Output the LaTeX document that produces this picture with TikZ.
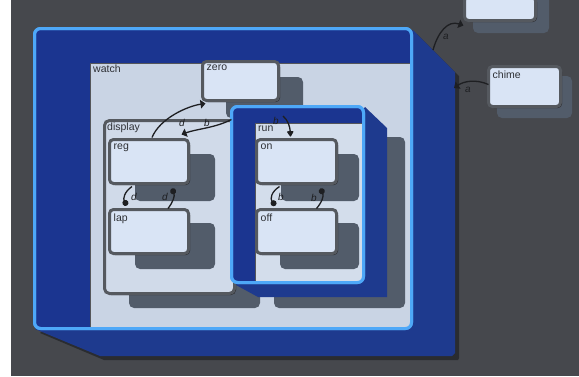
\documentclass[tikz,border=0pt]{standalone}
\usepackage{fontspec}
\setmainfont{Liberation Sans}
\usetikzlibrary{arrows.meta,shadows}
\definecolor{bgc}{HTML}{46484D}
\definecolor{deepblue}{HTML}{1B3590}
\definecolor{sideblue}{HTML}{1E3A8E}
\definecolor{frameblue}{HTML}{4EA8F8}
\definecolor{panelc}{HTML}{C9D4E4}
\definecolor{compc}{HTML}{D0DAE9}
\definecolor{runc}{HTML}{D3DDEB}
\definecolor{nodec}{HTML}{D9E4F5}
\definecolor{borderc}{HTML}{55595F}
\definecolor{shadowc}{HTML}{525C6A}
\definecolor{darkc}{HTML}{2A2C30}
\definecolor{textc}{HTML}{2E3035}
\definecolor{linec}{HTML}{1E1F22}
\tikzset{
  statebox/.style={fill=nodec, draw=borderc, line width=3pt, rounded corners=4pt,
    inner sep=0pt, outer sep=0pt,
    drop shadow={shadow xshift=1.5pt, shadow yshift=-1.5pt, fill=darkc, opacity=1}},
  compbox/.style={fill=compc, draw=borderc, line width=3pt, rounded corners=5pt,
    inner sep=0pt, outer sep=0pt,
    drop shadow={shadow xshift=1.5pt, shadow yshift=-1.5pt, fill=darkc, opacity=1}},
  framebox/.style={fill=deepblue, draw=frameblue, line width=3pt, rounded corners=6pt,
    inner sep=0pt, outer sep=0pt},
  panelbox/.style={inner sep=0pt, outer sep=0pt, anchor=north west},
  sh/.style={fill=shadowc, rounded corners=5pt},
  lbl/.style={anchor=north west, inner sep=0pt, text=textc,
    font=\fontsize{10.5}{12}\selectfont},
  ev/.style={inner sep=0pt, text=linec, font=\fontsize{10}{11}\selectfont\itshape},
  conn/.style={draw=linec, line width=1.3pt},
  tri/.style={-{Triangle[length=5pt,width=8.5pt]}},
  dot/.style={-{Circle[length=6pt,width=6pt]}},
  blob/.style={-{Triangle[round,length=6pt,width=7pt]}}
}
\begin{document}
\begin{tikzpicture}[x=1pt,y=-1pt]
\useasboundingbox (0,0) rectangle (579,376);
\fill[white] (0,0) rectangle (11,376);
\fill[bgc] (11,0) rectangle (579,376);

% outer boxes on the right
\fill[sh] (473,-8) rectangle (549,33);
\node[statebox, minimum width=71pt, minimum height=24pt] (topbox) at (500,8.5) {};
\fill[sh] (497,76) rectangle (572,118);
\node[statebox, minimum width=72pt, minimum height=40pt] (chime) at (524.5,86.5) {};
\node[lbl] (chime-l) at ([shift={(4,4)}]chime.north west) {chime};

% extruded side of the watch frame
\fill[darkc] (40,333) -- (104,360) -- (458,360) -- (459,358) -- (459,76) -- (417,34) -- cycle;
\fill[sideblue] (35,329) -- (100,356) -- (452,356) -- (455,353) -- (455,72) -- (413,30) -- cycle;
\coordinate (wext) at (433,50);
\coordinate (wside) at (454,88);

% watch frame and panel
\node[framebox, minimum width=377pt, minimum height=300pt] (frame) at (223,178.5) {};
\node[panelbox, fill=panelc, minimum width=320pt, minimum height=264pt] (watch) at (90,63) {};
\draw[darkc!80, line width=0.8pt] (watch.south west) -- (watch.north west) -- (watch.north east);
\draw[draw=frameblue, line width=3pt, rounded corners=6pt] (frame.north west) rectangle (frame.south east);
\node[lbl] (watch-l) at (93,65) {watch};

% zero
\fill[sh] (226,77) rectangle (303,118);
\node[statebox, minimum width=76pt, minimum height=39pt] (zero) at (240.5,81) {};
\node[lbl] (zero-l) at ([shift={(4,3)}]zero.north west) {zero};

% display composite
\fill[sh] (129,135) rectangle (260,308);
\node[compbox, minimum width=130pt, minimum height=173pt] (display) at (169.5,207) {};
\node[lbl] (display-l) at (107,123) {display};
\fill[sh] (135,154) rectangle (215,201);
\fill[sh] (135,223) rectangle (215,269);
\node[statebox, minimum width=79pt, minimum height=44pt] (reg) at (149,161.5) {};
\node[lbl] (reg-l) at ([shift={(4,4)}]reg.north west) {reg};
\node[statebox, minimum width=79pt, minimum height=44pt] (lap) at (149,231.5) {};
\node[lbl] (lap-l) at ([shift={(4,4)}]lap.north west) {lap};

% run composite
\fill[sh] (274,137) rectangle (405,308);
\fill[sideblue] (236,285) -- (258,297) -- (387,297) -- (387,128) -- (365,107) -- cycle;
\node[framebox, minimum width=132pt, minimum height=176pt] (runframe) at (297.5,194.5) {};
\node[panelbox, fill=runc, minimum width=107pt, minimum height=158pt] (run) at (255,123) {};
\draw[darkc!80, line width=0.8pt] (run.south west) -- (run.north west) -- (run.north east);
\draw[draw=frameblue, line width=3pt, rounded corners=6pt] (runframe.north west) rectangle (runframe.south east);
\node[lbl] (run-l) at (258,126) {run};
\fill[sh] (281,154) rectangle (359,201);
\fill[sh] (280,223) rectangle (359,269);
\node[statebox, minimum width=80pt, minimum height=44pt] (on) at (296.5,161.5) {};
\node[lbl] (on-l) at ([shift={(4,4)}]on.north west) {on};
\node[statebox, minimum width=80pt, minimum height=44pt] (off) at (296.5,231.5) {};
\node[lbl] (off-l) at ([shift={(4,4)}]off.north west) {off};
\coordinate (runinit) at (283,116);

% transitions
\draw[conn, tri] ([shift={(3,-2)}]reg.north) .. controls (160,118) and (188,106) .. ([shift={(-35,3)}]zero.south);
\node[ev] (ev-d1) at (182,123) {d};
\draw[conn, tri] ([shift={(0,13)}]runframe.north west) .. controls (215,128) and (196,129) .. ([shift={(-7,-5)}]reg.north east);
\node[ev] (ev-b1) at (207,123) {b};
\draw[conn, blob] (runinit) .. controls (288,120) and (290,127) .. ([shift={(-6,-3)}]on.north);
\node[ev] (ev-b2) at (276,121) {b};

\draw[conn, dot] ([shift={(-17,3)}]reg.south) .. controls (124,192) and (123,199) .. ([shift={(-22,-4)}]lap.north);
\node[ev] (ev-d2) at (134,197) {d};
\draw[conn, dot] ([shift={(19,-1)}]lap.north) .. controls (173,202) and (175,196) .. ([shift={(23,5)}]reg.south);
\node[ev] (ev-d3) at (165,197) {d};

\draw[conn, dot] ([shift={(-17,3)}]on.south) .. controls (271,192) and (270,199) .. ([shift={(-21,-4)}]off.north);
\node[ev] (ev-b3) at (281,197) {b};
\draw[conn, dot] ([shift={(20,-1)}]off.north) .. controls (322,202) and (324,196) .. ([shift={(24,5)}]on.south);
\node[ev] (ev-b4) at (314,198) {b};

\draw[conn, tri] (wext) .. controls (438,32) and (448,20) .. ([shift={(-1,5)}]topbox.south west);
\node[ev] (ev-a1) at (446,37) {a};
\draw[conn, tri] ([shift={(0,-2)}]chime.west) .. controls (476,79) and (464,81) .. (wside);
\node[ev] (ev-a2) at (468,90) {a};
\end{tikzpicture}
\end{document}
